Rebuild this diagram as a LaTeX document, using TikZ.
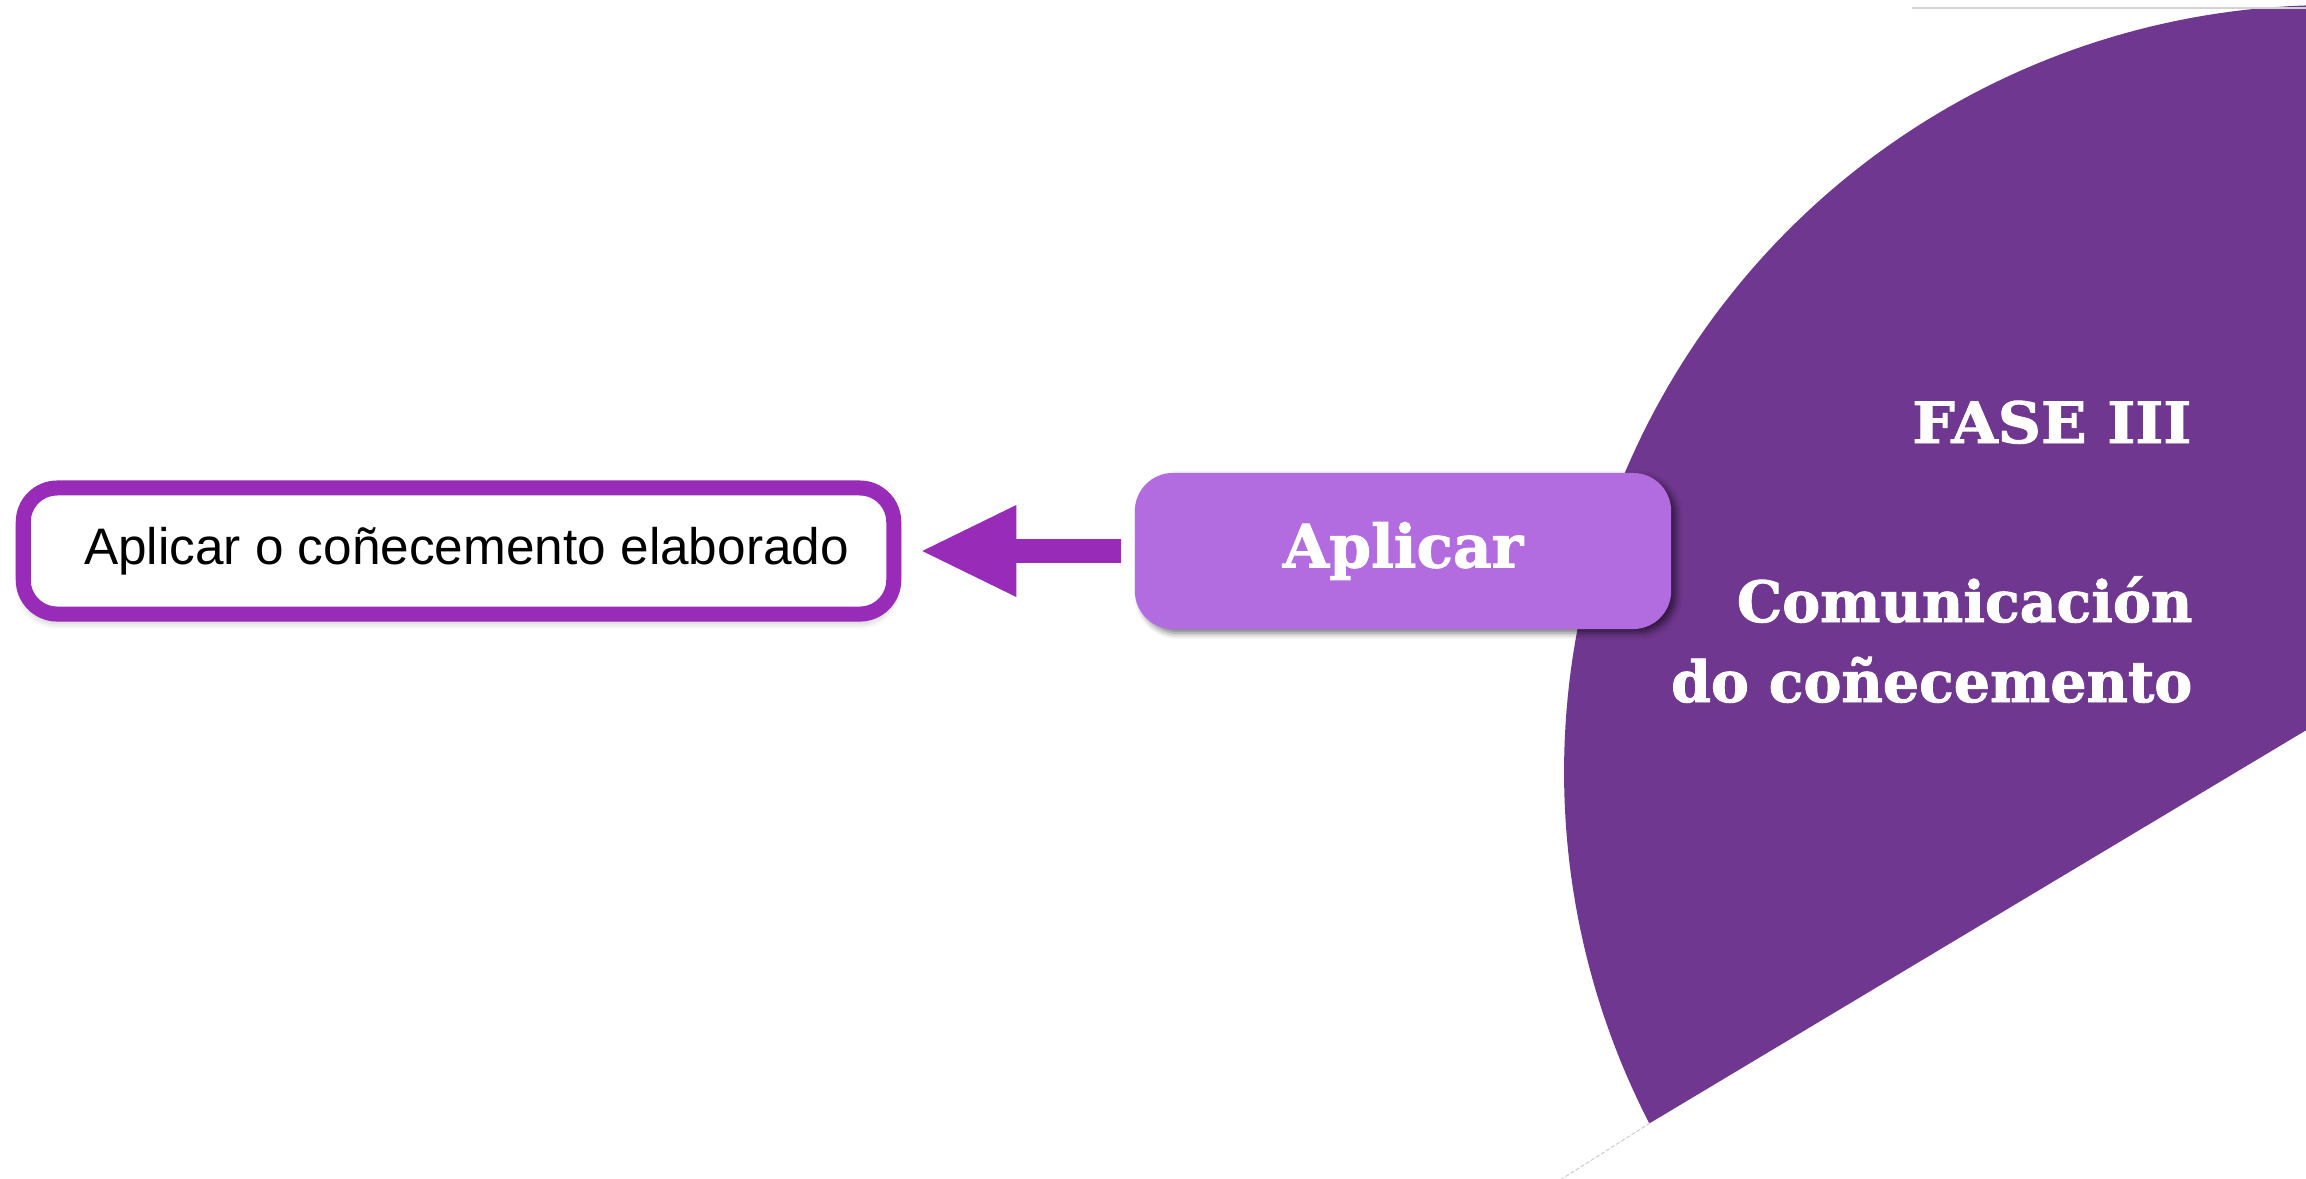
\documentclass[tikz,border=0pt]{standalone}
\usepackage{fontspec}
\setmainfont{Liberation Sans}
\newfontfamily\slabfont{DejaVu Serif}[BoldFeatures={FakeBold=1.6}]
\usetikzlibrary{arrows.meta,shadows.blur}
\definecolor{wedgecol}{RGB}{111,55,143}
\definecolor{framecol}{RGB}{153,43,185}
\definecolor{aplicarcol}{RGB}{179,107,224}
\tikzset{
  framebox/.style={draw=framecol, fill=white, line width=0.15cm, rounded corners=0.34cm,
    minimum width=8.70cm, minimum height=1.26cm, inner sep=0pt,
    font=\fontsize{14.6}{17}\selectfont,
    blur shadow={shadow xshift=0cm, shadow yshift=-0.07cm, shadow blur radius=0.08cm, shadow opacity=35}},
  phasebox/.style={fill=aplicarcol, rounded corners=0.38cm, outer sep=0pt, inner sep=0pt,
    minimum width=5.36cm, minimum height=1.56cm, text=white,
    font=\slabfont\bfseries\fontsize{17}{20}\selectfont,
    blur shadow={shadow xshift=0.05cm, shadow yshift=-0.04cm, shadow blur radius=0.06cm, shadow opacity=55}},
  phasetext/.style={text=white, inner sep=0pt, anchor=base east,
    font=\slabfont\bfseries\fontsize{16.2}{20}\selectfont},
  blockarrow/.style={framecol, line width=0.24cm,
    -{Triangle[length=0.94cm,width=0.92cm,line width=0pt]}}
}
\begin{document}
\begin{tikzpicture}[x=0.01cm,y=-0.01cm]
\useasboundingbox (0,0) rectangle (2306,1178);
\begin{scope}
  \clip (0,0) rectangle (2306,1178);
  \fill[wedgecol] (1650,1123) -- plot[domain=152.7:275,samples=120] ({2331+767*cos(\x)},{772+767*sin(\x)})
    -- (2400,-50) -- (2400,674) -- cycle;
  \draw[gray!35, line width=0.02cm] (1912,8) -- (2306,8);
  \draw[gray!40, line width=0.01cm, dash pattern=on 0.04cm off 0.02cm] (1650,1123) -- (1538,1194);
\end{scope}
\node[phasetext] (fase) at (2192,443) {\scalebox{1.05}[1]{FASE III}};
\node[phasetext] (com1) at (2193,622) {Comunicación};
\node[phasetext] (com2) at (2193,702) {do coñecemento};
\node[framebox] (lb) at (458.5,551) {\hspace*{0.16cm}Aplicar o coñecemento elaborado};
\node[phasebox] (ap) at (1403,551) {Aplicar};
\draw[blockarrow, shorten <=0.14cm, shorten >=0.21cm] (ap.west) -- (lb.east);
\end{tikzpicture}
\end{document}
